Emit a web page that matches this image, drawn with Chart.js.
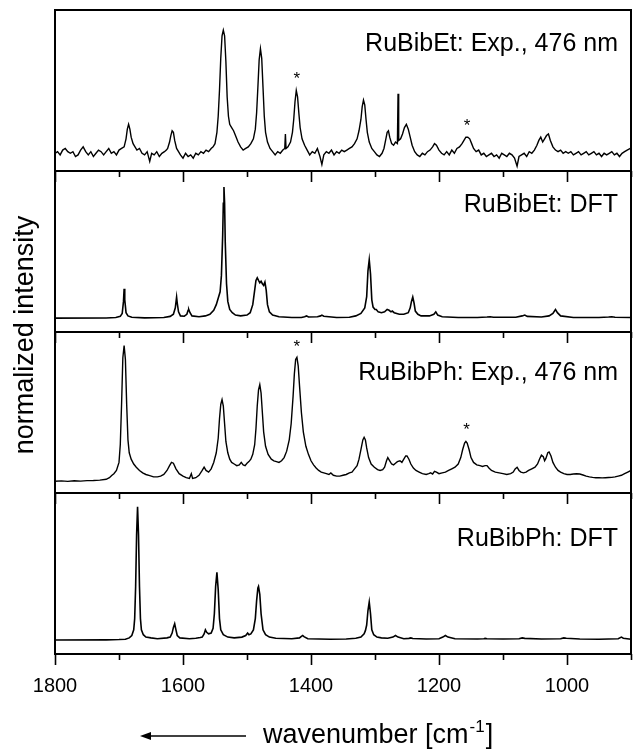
<!DOCTYPE html>
<html><head><meta charset="utf-8">
<script src="https://cdn.jsdelivr.net/npm/chart.js@4.4.1/dist/chart.umd.min.js"></script>
<style>html,body{margin:0;padding:0;background:#fff;}canvas{display:block;}</style>
</head><body>
<canvas id="c" width="633" height="749" style="width:633px;height:749px"></canvas>
<script>
// ---- data: [wavenumber, normalized intensity] ----
const etExp = [[1800,.11],[1796,.12],[1792,.10],[1788,.13],[1784,.14],[1780,.12],[1776,.11],[1772,.12],[1768,.09],[1764,.10],[1760,.13],[1756,.15],[1752,.12],[1748,.10],[1744,.12],[1740,.09],[1736,.11],[1732,.13],[1728,.12],[1724,.10],[1720,.12],[1716,.14],[1712,.11],[1708,.12],[1704,.10],[1700,.13],[1696,.14],[1692,.15],[1689,.20],[1687,.26],[1685,.29],[1683,.26],[1681,.21],[1678,.17],[1675,.15],[1672,.13],[1668,.14],[1664,.11],[1660,.10],[1656,.12],[1652,.06],[1649,.11],[1645,.10],[1641,.12],[1637,.09],[1633,.11],[1629,.12],[1626,.13],[1624,.14],[1621,.18],[1619,.22],[1617,.25],[1615,.24],[1613,.19],[1610,.14],[1607,.12],[1604,.10],[1600,.08],[1596,.11],[1592,.09],[1588,.10],[1584,.08],[1580,.11],[1576,.10],[1572,.12],[1568,.11],[1564,.13],[1560,.12],[1556,.14],[1553,.15],[1550,.17],[1547,.24],[1545,.34],[1543,.50],[1541,.70],[1539,.84],[1537,.875],[1535,.84],[1533,.68],[1531,.46],[1529,.34],[1527,.29],[1524,.27],[1521,.25],[1518,.22],[1514,.18],[1510,.15],[1506,.13],[1502,.14],[1498,.15],[1494,.17],[1490,.20],[1487,.26],[1485,.36],[1483,.52],[1481,.69],[1479,.76],[1477,.70],[1475,.52],[1473,.34],[1471,.24],[1468,.18],[1464,.14],[1460,.12],[1456,.10],[1452,.12],[1448,.11],[1444,.13],[1441,.14],[1440,.23],[1439,.14],[1436,.15],[1432,.18],[1429,.24],[1427,.32],[1425,.43],[1423,.50],[1421,.46],[1419,.36],[1417,.27],[1414,.20],[1410,.16],[1406,.13],[1402,.10],[1398,.12],[1394,.11],[1390,.14],[1386,.09],[1383,.04],[1380,.10],[1376,.12],[1372,.11],[1368,.13],[1364,.10],[1360,.12],[1356,.11],[1352,.13],[1348,.12],[1344,.13],[1340,.14],[1336,.15],[1332,.17],[1328,.20],[1325,.25],[1322,.32],[1320,.40],[1318,.44],[1316,.41],[1314,.32],[1312,.24],[1309,.18],[1305,.14],[1301,.12],[1297,.10],[1293,.09],[1289,.11],[1286,.14],[1283,.20],[1281,.24],[1279,.25],[1277,.21],[1274,.17],[1271,.16],[1268,.18],[1265,.17],[1264,.48],[1263,.19],[1260,.20],[1257,.23],[1254,.27],[1251,.29],[1248,.26],[1245,.21],[1242,.16],[1238,.12],[1234,.10],[1230,.09],[1226,.11],[1222,.10],[1218,.12],[1214,.13],[1210,.15],[1207,.17],[1204,.16],[1200,.13],[1196,.11],[1192,.10],[1188,.12],[1184,.10],[1180,.13],[1176,.11],[1172,.14],[1168,.15],[1164,.17],[1161,.19],[1158,.21],[1155,.21],[1152,.20],[1149,.17],[1146,.14],[1142,.12],[1138,.13],[1134,.10],[1130,.11],[1126,.09],[1122,.10],[1118,.11],[1114,.09],[1110,.10],[1106,.08],[1102,.11],[1098,.10],[1094,.09],[1090,.11],[1086,.10],[1082,.08],[1078,.03],[1075,.09],[1071,.10],[1067,.11],[1063,.09],[1059,.12],[1055,.11],[1051,.13],[1047,.16],[1044,.19],[1041,.21],[1038,.18],[1035,.20],[1032,.22],[1029,.23],[1026,.19],[1022,.15],[1018,.13],[1014,.12],[1010,.13],[1006,.11],[1002,.12],[998,.11],[994,.12],[990,.10],[986,.11],[982,.12],[978,.10],[974,.11],[970,.12],[966,.10],[962,.11],[958,.12],[954,.10],[950,.11],[946,.09],[942,.11],[938,.10],[934,.11],[930,.12],[926,.10],[922,.11],[918,.09],[914,.11],[910,.12],[906,.13],[901,.14]];

const etDft = [[1800,.086],[1720,.087],[1705,.09],[1698,.097],[1695,.115],[1693,.19],[1692,.268],[1691,.20],[1689,.12],[1686,.10],[1680,.092],[1660,.088],[1630,.09],[1620,.097],[1615,.11],[1612,.15],[1610,.217],[1609,.18],[1607,.125],[1604,.10],[1598,.098],[1594,.11],[1592,.135],[1591,.14],[1589,.12],[1586,.10],[1575,.095],[1565,.10],[1558,.11],[1552,.135],[1548,.17],[1545,.21],[1542,.25],[1540,.35],[1538,.60],[1537,.80],[1536,.90],[1535,.80],[1534,.56],[1532,.30],[1530,.19],[1527,.14],[1523,.12],[1518,.105],[1510,.10],[1500,.105],[1495,.12],[1491,.17],[1488,.26],[1486,.32],[1484,.336],[1482,.32],[1480,.305],[1478,.315],[1476,.30],[1474,.29],[1472,.31],[1470,.26],[1468,.17],[1465,.125],[1460,.105],[1450,.095],[1430,.09],[1415,.09],[1410,.095],[1407,.10],[1404,.093],[1390,.095],[1385,.10],[1383,.105],[1380,.098],[1360,.09],[1340,.092],[1330,.10],[1322,.115],[1316,.15],[1313,.22],[1311,.38],[1309,.448],[1307,.36],[1305,.20],[1303,.155],[1300,.14],[1298,.14],[1295,.125],[1290,.12],[1285,.125],[1281,.14],[1278,.135],[1275,.125],[1273,.13],[1270,.12],[1262,.11],[1255,.11],[1248,.12],[1245,.15],[1243,.19],[1241,.217],[1239,.18],[1237,.13],[1233,.11],[1228,.10],[1215,.10],[1208,.11],[1205,.125],[1202,.105],[1195,.095],[1170,.09],[1140,.09],[1125,.093],[1120,.095],[1115,.092],[1080,.092],[1070,.10],[1066,.105],[1062,.097],[1040,.093],[1028,.10],[1022,.115],[1018,.14],[1015,.12],[1010,.10],[990,.09],[950,.09],[935,.093],[930,.095],[925,.092],[900,.09]];

const phExp = [[1800,.073],[1790,.075],[1780,.072],[1770,.076],[1760,.074],[1750,.077],[1740,.078],[1730,.08],[1720,.085],[1715,.095],[1711,.11],[1708,.12],[1704,.14],[1700,.19],[1698,.30],[1696,.55],[1694,.84],[1692,.915],[1690,.83],[1688,.55],[1686,.33],[1684,.25],[1681,.21],[1677,.18],[1673,.16],[1668,.14],[1663,.125],[1658,.115],[1652,.108],[1646,.10],[1640,.10],[1635,.105],[1630,.115],[1625,.14],[1621,.17],[1618,.19],[1615,.185],[1611,.15],[1606,.12],[1600,.105],[1595,.095],[1590,.09],[1587,.12],[1585,.09],[1580,.095],[1575,.11],[1570,.14],[1567,.16],[1564,.14],[1560,.13],[1556,.15],[1552,.19],[1548,.25],[1545,.34],[1543,.46],[1541,.55],[1539,.58],[1537,.54],[1535,.43],[1533,.32],[1530,.25],[1527,.21],[1524,.19],[1520,.18],[1516,.17],[1512,.175],[1509,.19],[1506,.175],[1503,.17],[1500,.185],[1497,.195],[1494,.21],[1491,.24],[1488,.30],[1486,.40],[1484,.54],[1482,.64],[1480,.673],[1478,.62],[1476,.50],[1474,.38],[1471,.29],[1467,.24],[1462,.21],[1458,.20],[1454,.195],[1450,.19],[1446,.20],[1442,.22],[1438,.26],[1434,.33],[1431,.43],[1428,.60],[1426,.74],[1424,.83],[1422,.843],[1420,.79],[1418,.67],[1415,.50],[1412,.38],[1408,.29],[1404,.24],[1400,.20],[1396,.175],[1392,.155],[1388,.14],[1384,.13],[1380,.125],[1376,.12],[1372,.115],[1369,.125],[1365,.11],[1360,.105],[1355,.105],[1350,.11],[1345,.115],[1340,.125],[1336,.13],[1332,.15],[1328,.17],[1325,.21],[1322,.27],[1319,.33],[1317,.346],[1315,.33],[1313,.28],[1310,.22],[1306,.18],[1301,.16],[1296,.145],[1292,.14],[1288,.145],[1285,.16],[1282,.20],[1280,.22],[1277,.20],[1274,.18],[1271,.175],[1268,.185],[1265,.195],[1261,.20],[1258,.19],[1255,.21],[1252,.23],[1250,.23],[1247,.21],[1244,.18],[1240,.155],[1236,.14],[1231,.13],[1226,.12],[1220,.115],[1216,.12],[1213,.125],[1210,.118],[1207,.135],[1204,.13],[1200,.12],[1195,.125],[1190,.13],[1185,.14],[1180,.15],[1175,.16],[1170,.18],[1166,.22],[1163,.27],[1160,.31],[1158,.32],[1156,.31],[1153,.27],[1150,.22],[1146,.19],[1141,.175],[1136,.17],[1132,.165],[1128,.17],[1125,.17],[1122,.155],[1118,.14],[1112,.13],[1106,.125],[1100,.12],[1094,.115],[1088,.12],[1084,.13],[1081,.15],[1078,.16],[1075,.14],[1072,.13],[1068,.125],[1064,.13],[1060,.14],[1055,.15],[1050,.16],[1046,.18],[1043,.21],[1040,.235],[1037,.225],[1035,.20],[1033,.215],[1030,.25],[1028,.255],[1025,.23],[1022,.19],[1018,.16],[1014,.14],[1010,.13],[1005,.12],[1000,.115],[995,.115],[990,.118],[985,.12],[980,.118],[975,.112],[970,.105],[965,.10],[960,.097],[955,.095],[950,.095],[945,.094],[940,.095],[935,.096],[930,.097],[925,.10],[920,.105],[915,.11],[910,.12],[905,.13],[900,.14]];

const phDft = [[1800,.087],[1720,.088],[1700,.09],[1690,.092],[1684,.10],[1680,.115],[1677,.15],[1675.5,.22],[1674,.42],[1672.5,.74],[1671,.914],[1669.5,.74],[1668,.42],[1666.5,.22],[1665,.15],[1662,.12],[1658,.105],[1650,.10],[1640,.095],[1625,.10],[1620,.105],[1617,.13],[1615,.165],[1613,.1875],[1611,.15],[1609,.115],[1605,.10],[1590,.095],[1580,.098],[1573,.102],[1570,.105],[1567,.125],[1565,.15],[1563,.135],[1560,.125],[1556,.13],[1553,.16],[1551,.25],[1549,.42],[1547,.508],[1545,.40],[1543,.22],[1541,.15],[1537,.12],[1530,.105],[1520,.10],[1508,.105],[1502,.115],[1499,.13],[1497,.12],[1494,.125],[1490,.15],[1487,.22],[1485,.33],[1483,.41],[1482,.42],[1480,.37],[1478,.25],[1475,.15],[1471,.12],[1465,.105],[1455,.098],[1430,.095],[1418,.10],[1415,.11],[1413,.115],[1411,.108],[1405,.095],[1370,.092],[1345,.093],[1330,.098],[1322,.105],[1317,.125],[1315,.145],[1313,.18],[1311,.27],[1309,.323],[1307,.25],[1305,.15],[1302,.12],[1297,.105],[1290,.10],[1280,.098],[1272,.105],[1268,.115],[1264,.105],[1255,.095],[1247,.097],[1244,.10],[1241,.096],[1220,.093],[1200,.095],[1194,.105],[1190,.115],[1186,.105],[1175,.095],[1140,.093],[1130,.095],[1128,.097],[1125,.095],[1100,.093],[1075,.095],[1070,.10],[1066,.097],[1040,.093],[1010,.095],[1005,.10],[1001,.098],[980,.093],[950,.092],[920,.095],[915,.105],[912,.098],[900,.092]];

const panelLabels = ['RuBibEt: Exp., 476 nm', 'RuBibEt: DFT', 'RuBibPh: Exp., 476 nm', 'RuBibPh: DFT'];
const xTickValues = [1800, 1600, 1400, 1200, 1000];
// asterisk marks: [panel index, wavenumber, intensity]
const stars = [[0, 1422, .60], [0, 1156, .31], [2, 1422, .935], [2, 1157, .42]];

// ---- chart ----
const FONT = '"Liberation Sans", Arial, Helvetica, sans-serif';
const panelIds = ['p1', 'p2', 'p3', 'p4'];
const series = [etExp, etDft, phExp, phDft];
const widths = [1.4, 1.6, 1.4, 1.6];

function yScale() {
  return { type: 'linear', min: 0, max: 1, position: 'left', stack: 'panels', stackWeight: 1,
    display: true, ticks: { display: false }, grid: { display: false, drawTicks: false },
    border: { display: false } };
}

const decor = {
  id: 'decor',
  afterDraw(chart) {
    const { ctx, chartArea: a, scales } = chart;
    const xs = scales.x;
    ctx.save();
    ctx.strokeStyle = '#000';
    ctx.fillStyle = '#000';
    // panel frames
    ctx.lineWidth = 2;
    panelIds.forEach(id => {
      const s = scales[id];
      ctx.strokeRect(a.left, s.top, a.right - a.left, s.bottom - s.top);
    });
    // ticks at the bottom edge of each panel
    ctx.lineWidth = 1.6;
    panelIds.forEach(id => {
      const s = scales[id];
      xs.ticks.forEach(t => {
        const px = Math.round(xs.getPixelForValue(t.value)) + 0.5;
        const len = t.value % 200 === 0 ? 11 : 6;
        ctx.beginPath(); ctx.moveTo(px, s.bottom); ctx.lineTo(px, s.bottom + len); ctx.stroke();
      });
    });
    // panel labels
    const labelOffsets = [41, 41, 48, 53];
    ctx.font = '25px ' + FONT;
    ctx.textAlign = 'right';
    ctx.textBaseline = 'alphabetic';
    panelIds.forEach((id, i) => {
      const s = scales[id];
      ctx.fillText(panelLabels[i], a.right - 13, s.top + labelOffsets[i]);
    });
    // asterisks
    ctx.font = '17px ' + FONT;
    ctx.textAlign = 'center';
    stars.forEach(([p, wn, v]) => {
      const s = scales[panelIds[p]];
      ctx.fillText('*', xs.getPixelForValue(wn), s.getPixelForValue(v) + 10);
    });
    // y title
    ctx.save();
    ctx.translate(33, 335);
    ctx.rotate(-Math.PI / 2);
    ctx.font = '27px ' + FONT;
    ctx.textAlign = 'center';
    ctx.textBaseline = 'alphabetic';
    ctx.fillText('normalized intensity', 0, 0);
    ctx.restore();
    // x title with superscript
    ctx.textAlign = 'left';
    ctx.textBaseline = 'alphabetic';
    let x0 = 263, base = 743;
    ctx.font = '27px ' + FONT;
    const t1 = 'wavenumber [cm';
    ctx.fillText(t1, x0, base);
    x0 += ctx.measureText(t1).width;
    ctx.font = '17px ' + FONT;
    ctx.fillText('-1', x0 + 1, base - 11);
    x0 += ctx.measureText('-1').width + 2;
    ctx.font = '27px ' + FONT;
    ctx.fillText(']', x0, base);
    // arrow
    ctx.lineWidth = 1.5;
    ctx.beginPath(); ctx.moveTo(246, 736); ctx.lineTo(148, 736); ctx.stroke();
    ctx.beginPath(); ctx.moveTo(140, 736); ctx.lineTo(151, 732); ctx.lineTo(151, 740); ctx.closePath(); ctx.fill();
    ctx.restore();
  }
};

const scalesCfg = {
  x: {
    type: 'linear', min: 900, max: 1800, reverse: true, position: 'bottom',
    afterFit(s) { s.height = 95; s.paddingLeft = 0; s.paddingRight = 0; },
    grid: { display: false, drawTicks: false }, border: { display: false },
    ticks: {
      stepSize: 100, autoSkip: false, maxRotation: 0, padding: 20, color: '#000',
      font: { size: 20, family: FONT },
      callback: v => xTickValues.includes(v) ? String(v) : ''
    }
  }
};
// stacked axes: last declared is placed on top
['p4', 'p3', 'p2', 'p1'].forEach(id => { scalesCfg[id] = yScale(); });

new Chart(document.getElementById('c'), {
  type: 'line',
  data: {
    datasets: series.map((d, i) => ({
      data: d.map(([x, y]) => ({ x, y })),
      yAxisID: panelIds[i],
      borderColor: '#000', borderWidth: widths[i],
      pointRadius: 0, tension: 0, fill: false
    }))
  },
  options: {
    responsive: false, animation: false, devicePixelRatio: 1,
    layout: { padding: { top: 10, left: 55, right: 2, bottom: 0 } },
    plugins: { legend: { display: false }, tooltip: { enabled: false } },
    scales: scalesCfg
  },
  plugins: [decor]
});
</script>
</body></html>
